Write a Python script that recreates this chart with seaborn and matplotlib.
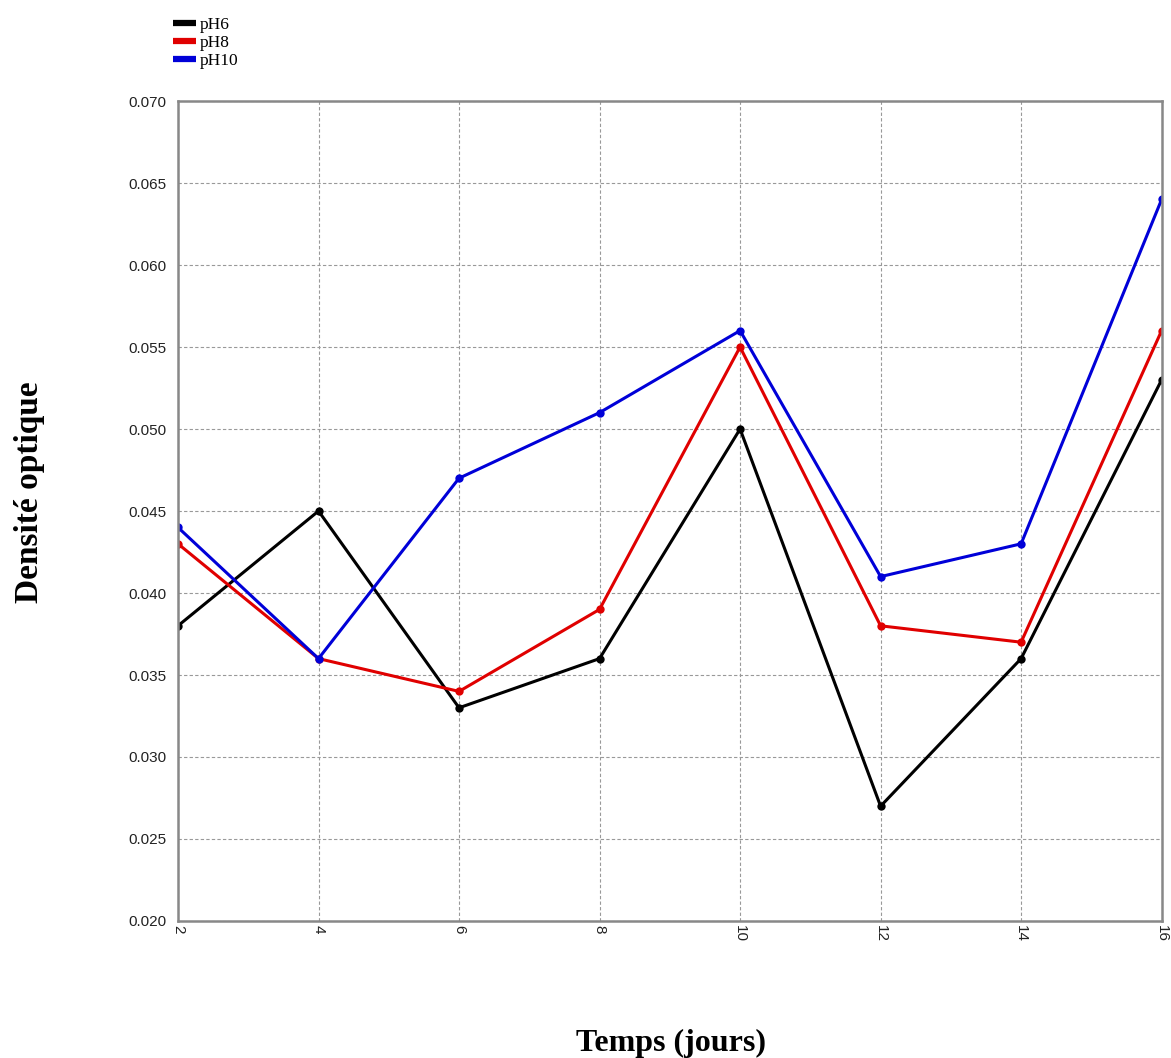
import pandas as pd
import numpy as np
import matplotlib.pyplot as plt
import seaborn as sns

# Data
jours = [2, 4, 6, 8, 10, 12, 14, 16]
ph6 = [0.038, 0.045, 0.033, 0.036, 0.050, 0.027, 0.036, 0.053]
ph8 = [0.043, 0.036, 0.034, 0.039, 0.055, 0.038, 0.037, 0.056]
ph10 = [0.044, 0.036, 0.047, 0.051, 0.056, 0.041, 0.043, 0.064]
series_names = ["pH6", "pH8", "pH10"]
colors = ["#000000", "#e00000", "#0000d8"]

df = pd.DataFrame(
    {
        "jours": jours * 3,
        "valeur": ph6 + ph8 + ph10,
        "serie": np.repeat(series_names, len(jours)),
    }
)

sns.set_style("white", rc={"text.color": "black", "axes.labelcolor": "black",
                           "xtick.color": "#222222", "ytick.color": "#222222"})
plt.rcParams["font.family"] = ["Liberation Serif", "DejaVu Serif"]

fig = plt.figure(figsize=(11.71, 10.58), dpi=100)
ax = fig.add_axes([0.152, 0.1295, 0.84, 0.775])

sns.lineplot(
    data=df,
    x="jours",
    y="valeur",
    hue="serie",
    hue_order=series_names,
    palette=colors,
    marker="o",
    markersize=6,
    markeredgewidth=0,
    linewidth=2.2,
    ax=ax,
    legend=True,
)

ax.set_xlim(2, 16)
ax.set_ylim(0.020, 0.070)
ax.set_xticks(jours)
ax.set_yticks(np.arange(0.020, 0.0701, 0.005))
ax.set_yticklabels([f"{v:.3f}" for v in np.arange(0.020, 0.0701, 0.005)])
ax.grid(True, color="#999999", linestyle=(0, (3, 2)), linewidth=0.8)

for s in ax.spines.values():
    s.set_color("#888888")
    s.set_linewidth(1.8)

ax.tick_params(axis="y", direction="out", length=5, width=1.2, color="#888888",
               labelsize=11, labelcolor="#222222")
ax.tick_params(axis="x", direction="out", length=0, labelsize=11, pad=3,
               labelcolor="#222222")
for lab in ax.get_xticklabels() + ax.get_yticklabels():
    lab.set_family(["Liberation Sans", "DejaVu Sans"])
for lab in ax.get_xticklabels():
    lab.set_rotation(-90)

ax.set_xlabel("")
ax.set_ylabel("")
fig.text(0.5726, 0.0066, "Temps (jours)", ha="center", va="baseline",
         fontsize=23, fontweight="bold", color="black")
fig.text(0.0255, 0.535, "Densité optique", ha="center", va="center",
         rotation=90, fontsize=24, fontweight="bold", color="black")

leg = ax.legend(
    loc="upper left",
    bbox_to_anchor=(0.1477, 0.984),
    bbox_transform=fig.transFigure,
    frameon=False,
    fontsize=12.5,
    handlelength=1.3,
    handletextpad=0.25,
    labelspacing=0.1,
    borderaxespad=0,
    borderpad=0,
)
for line in leg.get_lines():
    line.set_linewidth(4.5)
    line.set_marker("")
    line.set_solid_capstyle("butt")
for t in leg.get_texts():
    t.set_color("black")

fig.savefig("out.png", dpi=100)
